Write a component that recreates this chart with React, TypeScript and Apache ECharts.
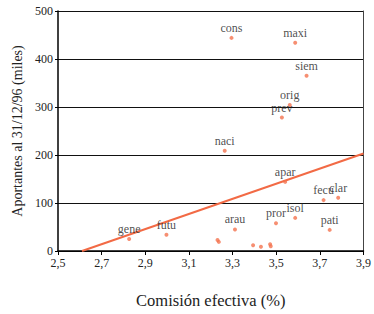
import React, { useEffect, useRef } from "react";
import * as echarts from "echarts";

const X_OFFSET = 2.5;
const names = ["cons", "maxi", "siem", "orig", "prev", "naci", "apar", "fecu", "clar", "isol", "pror", "pati", "arau", "gene", "futu", "", "", "", "", "", ""];
const comision = [3.295, 3.587, 3.639, 3.562, 3.526, 3.264, 3.541, 3.717, 3.784, 3.587, 3.499, 3.745, 3.311, 2.826, 2.997, 3.231, 3.237, 3.394, 3.43, 3.472, 3.475];
const aportantes = [444, 434, 365, 304, 278, 209, 144, 106, 111, 69, 58, 44, 45, 25, 34, 23, 19, 12, 9, 14, 10];
const trendX = [2.61, 3.9];
const trendY = [0, 203];
const yTicks = [0, 100, 200, 300, 400, 500];

export default function App() {
  const ref = useRef<HTMLDivElement>(null);
  useEffect(() => {
    const chart = echarts.init(ref.current!, undefined, { renderer: "svg" });
    const font = "Liberation Serif";
    chart.setOption({
      animation: false,
      textStyle: { fontFamily: font },
      grid: { left: 58, right: 6, top: 11, bottom: 61 },
      xAxis: {
        type: "value",
        min: 0,
        max: 1.4,
        interval: 0.2,
        name: "Comisión efectiva (%)",
        nameLocation: "middle",
        nameGap: 41,
        nameTextStyle: { fontFamily: font, fontSize: 16.5, color: "#222" },
        axisLine: { show: true, onZero: false, lineStyle: { color: "#000", width: 1.5 } },
        axisTick: { show: true, length: 4, lineStyle: { color: "#000" } },
        axisLabel: {
          fontFamily: font,
          fontSize: 12,
          color: "#222",
          margin: 6,
          formatter: (v: number) => (v + X_OFFSET).toFixed(1).replace(".", ","),
        },
        splitLine: { show: false },
      },
      yAxis: [
        {
          type: "value",
          min: yTicks[0],
          max: yTicks[yTicks.length - 1],
          interval: 100,
          name: "Aportantes al 31/12/96 (miles)",
          nameLocation: "middle",
          nameGap: 31,
          nameTextStyle: { fontFamily: font, fontSize: 14, color: "#222" },
          axisLine: { show: true, lineStyle: { color: "#000", width: 1.5 } },
          axisTick: { show: true, length: 3, lineStyle: { color: "#000" } },
          axisLabel: { fontFamily: font, fontSize: 12, color: "#222", margin: 5 },
          splitLine: { show: true, lineStyle: { color: "#111", width: 1 } },
        },
        {
          type: "value",
          min: 0,
          max: 500,
          position: "right",
          axisLine: { show: true, lineStyle: { color: "#444", width: 1 } },
          axisTick: { show: false },
          axisLabel: { show: false },
          splitLine: { show: false },
        },
      ],
      series: [
        {
          type: "line",
          data: trendX.map((x, i) => [x - X_OFFSET, trendY[i]]),
          symbol: "none",
          lineStyle: { color: "#f26a45", width: 2 },
          silent: true,
          z: 1,
        },
        {
          type: "scatter",
          data: comision.map((x, i) => ({ value: [x - X_OFFSET, aportantes[i]], name: names[i] })),
          symbol: "circle",
          symbolSize: 4,
          itemStyle: { color: "#f4734f" },
          label: {
            show: true,
            position: "top",
            distance: 2,
            formatter: (p: any) => p.name,
            fontFamily: font,
            fontSize: 12,
            color: "#222",
          },
          z: 2,
        },
      ],
    });
    return () => chart.dispose();
  }, []);
  return <div ref={ref} style={{ width: 374, height: 314, position: "absolute", left: 0, top: 0, background: "#fff" }} />;
}
